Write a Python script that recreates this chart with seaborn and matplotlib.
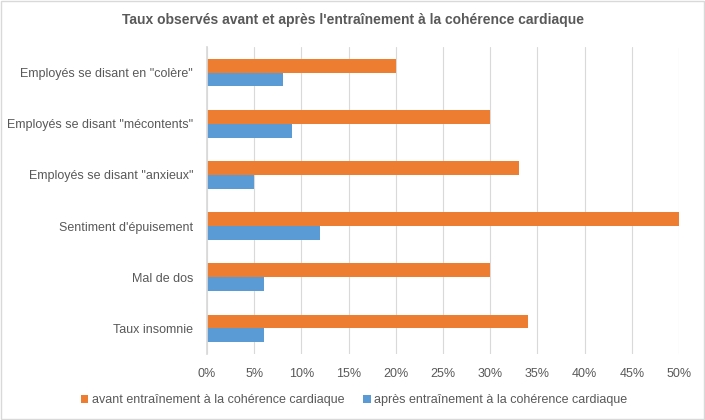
import matplotlib
matplotlib.use("Agg")
import matplotlib.pyplot as plt
import seaborn as sns
import pandas as pd
from matplotlib.ticker import PercentFormatter, MultipleLocator
from matplotlib.patches import Rectangle

categories = ['Employés se disant en "colère"', 'Employés se disant "mécontents"',
              'Employés se disant "anxieux"', "Sentiment d'épuisement",
              'Mal de dos', 'Taux insomnie']
avant = [20, 30, 33, 50, 30, 34]
apres = [8, 9, 5, 12, 6, 6]
series_names = ["avant entraînement à la cohérence cardiaque",
                "après entraînement à la cohérence cardiaque"]
colors = ["#ED7D31", "#5B9BD5"]

df = pd.DataFrame({
    "cat": categories * 2,
    "val": avant + apres,
    "serie": [series_names[0]] * len(categories) + [series_names[1]] * len(categories),
})

sns.set_theme(style="white")
plt.rcParams['font.family'] = ['Liberation Sans', 'DejaVu Sans']

fig = plt.figure(figsize=(7.05, 4.2), dpi=100)
ax = fig.add_axes([207/705, 1 - 354/420, (679-207)/705, (354-47)/420])

sns.barplot(data=df, y="cat", x="val", hue="serie", order=categories,
            hue_order=series_names, palette=colors, width=0.54,
            orient="y", ax=ax, saturation=1, legend=True, linewidth=0)

ax.set_xlim(0, 50)
ax.xaxis.set_major_locator(MultipleLocator(5))
ax.xaxis.set_major_formatter(PercentFormatter(decimals=0))
ax.grid(axis="x", color="#d9d9d9", linewidth=0.8)
ax.set_axisbelow(True)
for s in ["top", "right", "bottom"]:
    ax.spines[s].set_visible(False)
ax.spines["left"].set_color("#d9d9d9")
ax.set_xlabel("")
ax.set_ylabel("")
ax.tick_params(axis="both", length=0, colors="#595959", labelsize=9)
ax.tick_params(axis="y", pad=10)
ax.tick_params(axis="x", pad=10)

fig.text(0.5, 1 - 20/420, "Taux observés avant et après l'entraînement à la cohérence cardiaque",
         ha="center", va="center", fontsize=10, fontweight="bold", color="#595959")

handles, labels = ax.get_legend_handles_labels()
ax.legend_.remove()
fig.legend(handles, labels, loc="center", bbox_to_anchor=(354/705, 1 - 400/420), ncol=2,
           frameon=False, fontsize=9, handlelength=0.6, handleheight=0.6,
           handletextpad=0.3, columnspacing=1.5, labelcolor="#595959")

fig.add_artist(Rectangle((0.001, 0.002), 0.997, 0.996, transform=fig.transFigure,
                         fill=False, edgecolor="#d9d9d9", linewidth=1))

fig.savefig("out.png", dpi=100)
